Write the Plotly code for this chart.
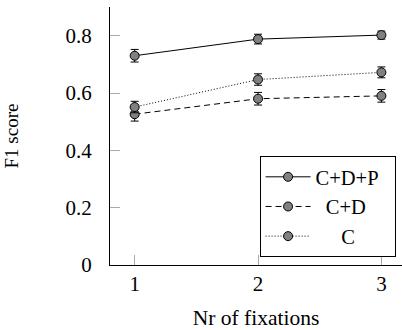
import plotly.graph_objects as go

fixations = [1, 2, 3]
cdp = [0.730, 0.788, 0.802]
cdp_err = [0.022, 0.017, 0.014]
cd = [0.526, 0.580, 0.590]
cd_err = [0.024, 0.022, 0.022]
c = [0.551, 0.647, 0.672]
c_err = [0.020, 0.020, 0.019]
names = ["C+D+P\u00a0\u00a0", "\u00a0\u00a0C+D", "\u00a0\u00a0\u00a0\u00a0\u00a0C"]
dashes = ["solid", "6px,4px", "1px,2px"]

FONT = "Liberation Serif"
fig = go.Figure()
for name, vals, errs, dash in zip(names, [cdp, cd, c], [cdp_err, cd_err, c_err], dashes):
    fig.add_trace(go.Scatter(
        x=fixations, y=vals, name=name, mode="lines+markers",
        line=dict(color="black", width=1, dash=dash),
        marker=dict(size=9, color="#808080", line=dict(color="black", width=1)),
        error_y=dict(type="data", array=errs, color="black", thickness=1, width=4),
    ))

fig.update_layout(
    width=402, height=330,
    margin=dict(l=110, r=0, t=7, b=65, autoexpand=False),
    plot_bgcolor="white", paper_bgcolor="white",
    font=dict(family=FONT, size=20.5, color="black"),
    showlegend=True,
    legend=dict(x=0.978, y=0.031, xanchor="right", yanchor="bottom",
                bordercolor="black", borderwidth=1, bgcolor="white",
                itemwidth=45, font=dict(family=FONT, size=20.5)),
    xaxis=dict(range=[0.8, 3.167], tickvals=fixations, ticktext=["1", "2", "3"],
               showline=True, linecolor="black", linewidth=1, automargin=False,
               ticks="inside", ticklen=10, tickcolor="#aaaaaa", showgrid=False,
               zeroline=False, ticklabelstandoff=0, tickfont=dict(size=21),
               title=dict(text="Nr of fixations", standoff=23, font=dict(size=21.5))),
    yaxis=dict(range=[0, 0.9], tickvals=[0, 0.2, 0.4, 0.6, 0.8],
               ticktext=["0", "0.2", "0.4", "0.6", "0.8"],
               showline=True, linecolor="black", linewidth=1, automargin=False,
               ticks="inside", ticklen=10, tickcolor="#aaaaaa", showgrid=False,
               zeroline=False, ticklabelstandoff=13, tickfont=dict(size=21),
               title=dict(text="F1 score", standoff=41, font=dict(size=19))),
)
fig.write_html("out.html", config={"displayModeBar": False},
               post_script="document.body.style.margin='0';document.body.style.overflow='hidden';")
